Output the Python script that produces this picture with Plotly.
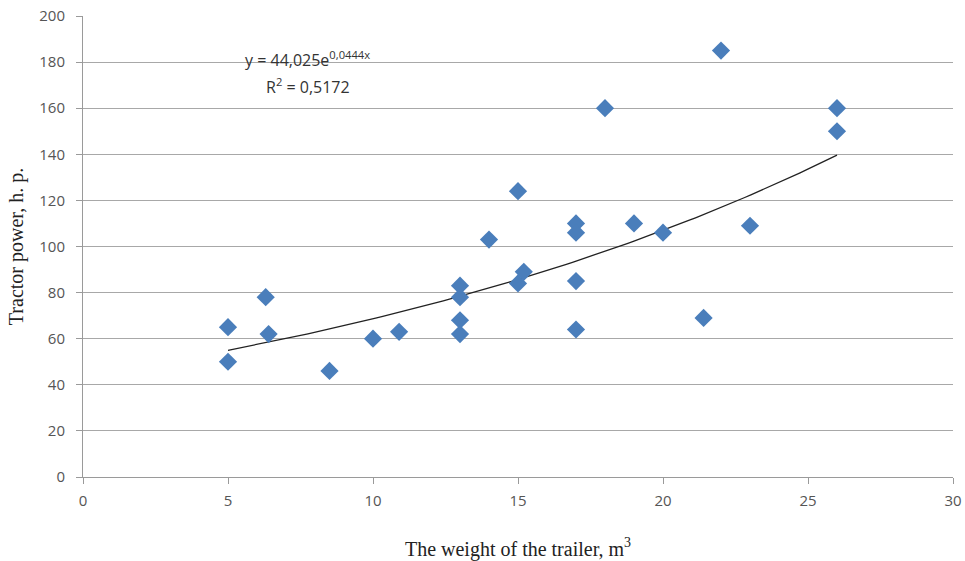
import numpy as np
import plotly.graph_objects as go

# Data
trailer_weight = [5, 5, 6.3, 6.4, 8.5, 10, 10.9, 13, 13, 13, 13, 14, 15, 15, 15.2,
                  17, 17, 17, 17, 18, 19, 20, 21.4, 22, 23, 26, 26]
tractor_power = [65, 50, 78, 62, 46, 60, 63, 83, 78, 68, 62, 103, 124, 84, 89,
                 110, 106, 85, 64, 160, 110, 106, 69, 185, 109, 160, 150]

# Exponential trendline coefficients shown on the chart
trend_a = 44.025
trend_b = 0.0444
trend_x_range = [5, 26]

x_ticks = [0, 5, 10, 15, 20, 25, 30]
y_ticks = [0, 20, 40, 60, 80, 100, 120, 140, 160, 180, 200]

tx = np.linspace(trend_x_range[0], trend_x_range[1], 100)
ty = trend_a * np.exp(trend_b * tx)

fig = go.Figure()
fig.add_trace(go.Scatter(x=tx, y=ty, mode="lines",
                         line=dict(color="#222222", width=1.3),
                         hoverinfo="skip", showlegend=False))
fig.add_trace(go.Scatter(x=trailer_weight, y=tractor_power, mode="markers",
                         marker=dict(symbol="diamond", size=14, color="#4A7EBB",
                                     line=dict(width=0)),
                         showlegend=False))

ann_font = dict(family="Open Sans, Liberation Sans, sans-serif", size=16, color="#333333")
fig.add_annotation(x=7.75, y=181.5, xref="x", yref="y",
                   text="y = 44,025e<sup>0,0444x</sup>", showarrow=False, font=ann_font)
fig.add_annotation(x=7.75, y=169.5, xref="x", yref="y",
                   text="R<sup>2</sup> = 0,5172", showarrow=False, font=ann_font)

tick_font = dict(family="Open Sans, Liberation Sans, sans-serif", size=15, color="#555555")
title_font = dict(family="Liberation Serif, Times New Roman, serif", size=20, color="#222222")

fig.update_layout(
    width=965, height=561,
    margin=dict(l=83, r=12, t=16, b=84),
    plot_bgcolor="white", paper_bgcolor="white",
    xaxis=dict(range=[0, 30], tickvals=x_ticks, showgrid=False, zeroline=False,
               showline=True, linecolor="#9a9a9a", linewidth=1,
               ticks="outside", ticklen=6, tickcolor="#9a9a9a",
               tickfont=tick_font, automargin=False, ticklabelstandoff=4,
               title=dict(text="The weight of the trailer, m<sup>3</sup>", font=title_font, standoff=32)),
    yaxis=dict(range=[0, 200], tickvals=y_ticks, showgrid=True, gridcolor="#a8a8a8", gridwidth=1,
               zeroline=False, showline=True, linecolor="#9a9a9a", linewidth=1,
               ticks="outside", ticklen=6, tickcolor="#9a9a9a",
               tickfont=tick_font, automargin=False, ticklabelstandoff=8,
               title=dict(text="Tractor power, h. p.", font=title_font, standoff=10)),
)

fig.write_html("out.html")
